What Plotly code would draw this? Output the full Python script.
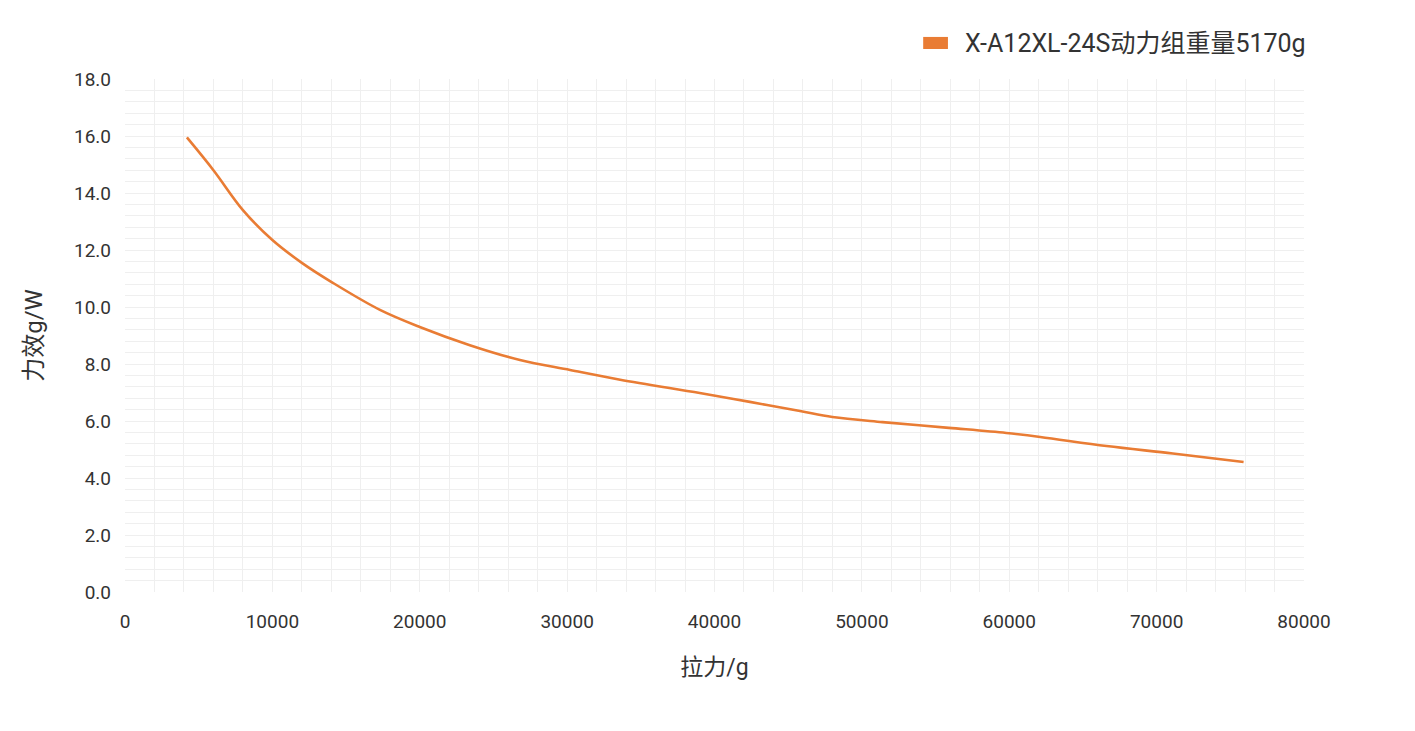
import plotly.graph_objects as go

pull_g = [4200, 6000, 8000, 10000, 12000, 14100, 17300, 20000, 23400, 26800, 30200,
          33600, 39000, 42400, 45800, 48000, 51400, 55900, 59800, 62100, 66600, 71100, 75900]
eff_gw = [15.95, 14.8, 13.4, 12.35, 11.55, 10.85, 9.9, 9.3, 8.66, 8.14, 7.79,
          7.45, 6.98, 6.67, 6.35, 6.14, 5.96, 5.76, 5.58, 5.44, 5.12, 4.86, 4.56]
series_name = "X-A12XL-24S动力组重量5170g"
x_title = "拉力/g"
y_title = "力效g/W"

color = "#E97C34"
font_family = "Roboto, Noto Sans CJK SC, sans-serif"
text_color = "#333333"

fig = go.Figure()
fig.add_trace(go.Scatter(
    x=pull_g, y=eff_gw, mode="lines", name=series_name,
    line=dict(color=color, width=2.6, shape="spline", smoothing=1.0),
    showlegend=False,
))

grid = "#efefef"
fig.update_layout(
    width=1415, height=731,
    margin=dict(l=117, r=119, t=71, b=147),
    plot_bgcolor="white", paper_bgcolor="white",
    font=dict(family=font_family, color=text_color, size=18),
    xaxis=dict(
        range=[0, 80000], dtick=10000, tick0=0, tickformat="d",
        showgrid=True, gridcolor=grid, gridwidth=1,
        zeroline=False, showline=False, ticks="",
        minor=dict(dtick=2000, showgrid=True, gridcolor=grid, gridwidth=1, ticks=""),
        tickfont=dict(size=19, color=text_color),
        ticklabelstandoff=16,
        title=dict(text=x_title, font=dict(size=23, color=text_color), standoff=26),
    ),
    yaxis=dict(
        range=[0, 18], dtick=2, tick0=0, tickformat=".1f", showgrid=True,
        gridcolor=grid, gridwidth=1, zeroline=False, showline=False, ticks="",
        minor=dict(dtick=0.4, showgrid=True, gridcolor=grid, gridwidth=1, ticks=""),
        tickfont=dict(size=19, color=text_color),
        ticklabelstandoff=13,
        title=dict(text=y_title, font=dict(size=24, color=text_color), standoff=24),
    ),
    shapes=[dict(type="rect", xref="paper", yref="paper",
                 x0=0.677, x1=0.698, y0=1.0585, y1=1.082,
                 fillcolor=color, line=dict(width=0))],
    annotations=[dict(text=series_name, xref="paper", yref="paper",
                      x=0.711, y=1.070, xanchor="left", yanchor="middle",
                      showarrow=False, font=dict(size=25, color=text_color))],
)

fig.write_html("out.html")
